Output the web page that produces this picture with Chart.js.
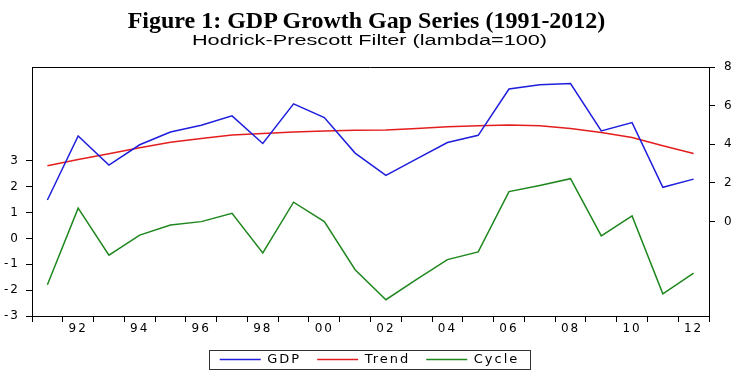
<!DOCTYPE html>
<html>
<head>
<meta charset="utf-8">
<script src="https://cdn.jsdelivr.net/npm/chart.js@4.4.1/dist/chart.umd.min.js"></script>
<style>
  html, body { margin: 0; padding: 0; background: #fff; }
  #wrap { position: relative; width: 739px; height: 372px; }
  #chart { position: absolute; left: 0; top: 0; }
  .title { position: absolute; left: 0; width: 739px; text-align: center; white-space: nowrap; color: #000; }
  #t1 { top: 8px; left: -3px; font: bold 24px/24px 'Liberation Serif', 'Times New Roman', serif; }
  #t2 { top: 33px; font: 14px/14px 'Liberation Sans', Arial, sans-serif; transform: scaleX(1.55); }
</style>
</head>
<body>
<div id="wrap">
  <canvas id="chart" width="739" height="372"></canvas>
  <div class="title" id="t1">Figure 1: GDP Growth Gap Series (1991-2012)</div>
  <div class="title" id="t2">Hodrick-Prescott Filter (lambda=100)</div>
</div>
<script>
const years = ['1991', '1992', '1993', '1994', '1995', '1996', '1997', '1998', '1999', '2000', '2001',
               '2002', '2003', '2004', '2005', '2006', '2007', '2008', '2009', '2010', '2011', '2012'];
const tickLabels = ['', '92', '', '94', '', '96', '', '98', '', '00', '',
                    '02', '', '04', '', '06', '', '08', '', '10', '', '12'];
const gdp = [1.11, 4.43, 2.92, 3.97, 4.63, 4.98, 5.47, 4.04, 6.09, 5.38, 3.54,
             2.38, 3.24, 4.09, 4.46, 6.86, 7.08, 7.14, 4.69, 5.12, 1.77, 2.19];
const trend = [2.88, 3.21, 3.50, 3.82, 4.10, 4.30, 4.48, 4.56, 4.63, 4.69, 4.72,
               4.74, 4.81, 4.90, 4.96, 5.00, 4.95, 4.81, 4.61, 4.35, 3.92, 3.52];
const cycle = [-1.79, 1.17, -0.65, 0.13, 0.52, 0.65, 0.97, -0.56, 1.40, 0.65, -1.21,
               -2.37, -1.58, -0.82, -0.52, 1.81, 2.05, 2.31, 0.10, 0.87, -2.14, -1.34];
const leftTicks = [-3, -2, -1, 0, 1, 2, 3];
const rightTicks = [0, 2, 4, 6, 8];

const family = "'DejaVu Sans', 'Liberation Sans', sans-serif";
const font = { family: family, size: 12 };
const PLOT_BOTTOM = 316;
const PAD_BOTTOM = -4;

// eviews text is drawn wide, widen the canvas text a bit
const spacing = {
    id: 'spacing',
    beforeUpdate(chart) { chart.ctx.letterSpacing = '2px'; },
    beforeDraw(chart) { chart.ctx.letterSpacing = '2px'; }
};

// top edge of the frame and the box round the legend
const frame = {
    id: 'frame',
    afterDraw(chart) {
        const { ctx, chartArea } = chart;
        ctx.save();
        ctx.strokeStyle = '#000';
        ctx.lineWidth = 1;
        ctx.beginPath();
        const top = Math.round(chartArea.top) + 0.5;
        ctx.moveTo(chartArea.left, top);
        ctx.lineTo(chartArea.right, top);
        ctx.stroke();

        const boxes = chart.legend.legendHitBoxes;
        if (boxes && boxes.length) {
            const left = Math.min(...boxes.map(b => b.left)) - 11;
            const right = Math.max(...boxes.map(b => b.left + b.width)) + 10;
            const y0 = Math.min(...boxes.map(b => b.top)) - 3;
            const y1 = Math.max(...boxes.map(b => b.top + b.height)) + 3;
            ctx.strokeStyle = '#333';
            ctx.strokeRect(Math.round(left) + 0.5, Math.round(y0) + 0.5, Math.round(right - left), Math.round(y1 - y0));
        }
        ctx.restore();
    }
};

const axisGrid = { drawOnChartArea: false, tickLength: 6, color: '#000' };

const ctx = document.getElementById('chart').getContext('2d');
const chart = new Chart(ctx, {
    type: 'line',
    data: {
        labels: years,
        datasets: [
            {
                label: 'GDP',
                data: gdp,
                borderColor: 'rgb(30, 30, 220)',
                borderWidth: 1.5,
                pointRadius: 0,
                tension: 0,
                yAxisID: 'y1'
            },
            {
                label: 'Trend',
                data: trend,
                borderColor: 'rgb(228, 30, 30)',
                borderWidth: 1.5,
                pointRadius: 0,
                tension: 0,
                yAxisID: 'y1'
            },
            {
                label: 'Cycle',
                data: cycle,
                borderColor: 'rgb(30, 135, 30)',
                borderWidth: 1.5,
                pointRadius: 0,
                tension: 0,
                yAxisID: 'y'
            }
        ]
    },
    options: {
        responsive: false,
        animation: false,
        events: [],
        layout: { padding: { top: 67, left: 0, right: 0, bottom: PAD_BOTTOM } },
        plugins: {
            legend: {
                position: 'bottom',
                labels: {
                    color: '#000',
                    font: { family: family, size: 13 },
                    usePointStyle: true,
                    pointStyle: 'line',
                    pointStyleWidth: 41,
                    padding: 16
                }
            },
            tooltip: { enabled: false }
        },
        scales: {
            x: {
                type: 'category',
                offset: true,
                grid: { ...axisGrid, offset: true },
                border: { color: '#000', width: 1 },
                ticks: {
                    autoSkip: false,
                    maxRotation: 0,
                    padding: 0,
                    color: '#000',
                    font: font,
                    callback: (v, i) => tickLabels[i]
                },
                afterFit: (scale) => {
                    scale.height = 372 - PAD_BOTTOM - scale.chart.legend.height - PLOT_BOTTOM;
                }
            },
            y: {
                type: 'linear',
                position: 'left',
                min: -3,
                max: 6.63,
                afterBuildTicks: (scale) => { scale.ticks = leftTicks.map(v => ({ value: v })); },
                grid: axisGrid,
                border: { color: '#000', width: 1 },
                ticks: { color: '#000', font: font, padding: 6 },
                afterFit: (scale) => { scale.width = 32; }
            },
            y1: {
                type: 'linear',
                position: 'right',
                min: -4.9,
                max: 8,
                afterBuildTicks: (scale) => { scale.ticks = rightTicks.map(v => ({ value: v })); },
                grid: axisGrid,
                border: { color: '#000', width: 1 },
                ticks: { color: '#000', font: font, padding: 9 },
                afterFit: (scale) => { scale.width = 30; }
            }
        }
    },
    plugins: [spacing, frame]
});
</script>
</body>
</html>
